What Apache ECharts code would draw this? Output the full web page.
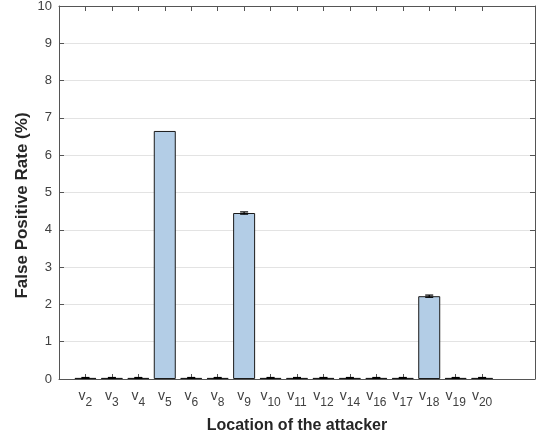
<!DOCTYPE html>
<html><head><meta charset="utf-8">
<script src="https://cdn.jsdelivr.net/npm/echarts@6/dist/echarts.min.js"></script>
<style>html,body{margin:0;padding:0;background:#fff}#c{width:537px;height:439px}</style>
</head><body><div id="c"></div>
<script>
// Attacker locations (subscript of v)
const categories = ['2','3','4','5','6','8','9','10','11','12','14','16','17','18','19','20'];
// False positive rate (%)
const rates = [0.03,0.03,0.03,6.65,0.03,0.03,4.45,0.03,0.03,0.03,0.03,0.03,0.03,2.22,0.03,0.03];
// Error (half-height of error bar)
const errors = [0.01,0.01,0.01,0,0.01,0.01,0.03,0.01,0.01,0.01,0.01,0.01,0.01,0.03,0.01,0.01];
const yTicks = [0,1,2,3,4,5,6,7,8,9,10];

const positions = categories.map((c, i) => i + 1);
const barData = positions.map((p, i) => [p, rates[i]]);
const errData = positions.map((p, i) => [p, rates[i], errors[i]]);

const axisColor = '#555';
const textColor = '#404040';
const font = 'Liberation Sans, Arial, Helvetica, sans-serif';

const chart = echarts.init(document.getElementById('c'), null, {renderer: 'canvas'});
chart.setOption({
  animation: false,
  backgroundColor: '#fff',
  grid: {left: 59, right: 2, top: 6, bottom: 60, containLabel: false, outerBoundsMode: 'none'},
  xAxis: [{
    type: 'value', min: 0, max: 18, position: 'bottom',
    axisLine: {show: true, onZero: false, lineStyle: {color: axisColor, width: 1}},
    axisTick: {show: true, inside: true, length: 5, customValues: positions, lineStyle: {color: axisColor}},
    axisLabel: {
      show: true, customValues: positions, margin: 10, fontFamily: font, color: textColor,
      formatter: v => '{v|v}{s|' + categories[Math.round(v) - 1] + '}',
      rich: {
        v: {fontSize: 14, fontFamily: font, color: textColor, verticalAlign: 'top', lineHeight: 14},
        s: {fontSize: 12, fontFamily: font, color: textColor, verticalAlign: 'bottom', lineHeight: 20}
      }
    },
    splitLine: {show: false},
    name: 'Location of the attacker', nameLocation: 'middle', nameGap: 39, nameMoveOverlap: false,
    nameTextStyle: {fontSize: 16, fontWeight: 'bold', color: '#262626', fontFamily: font}
  }, {
    type: 'value', min: 0, max: 18, position: 'top',
    axisLine: {show: true, onZero: false, lineStyle: {color: axisColor, width: 1}},
    axisTick: {show: true, inside: true, length: 5, customValues: positions, lineStyle: {color: axisColor}},
    axisLabel: {show: false},
    splitLine: {show: false}
  }],
  yAxis: [{
    type: 'value', min: 0, max: 10, interval: 1, position: 'left',
    axisLine: {show: true, onZero: false, lineStyle: {color: axisColor, width: 1}},
    axisTick: {show: true, inside: true, length: 5, lineStyle: {color: axisColor}},
    axisLabel: {show: true, margin: 7, fontSize: 13, fontFamily: font, color: textColor,
      formatter: v => yTicks.includes(v) ? String(v) : ''},
    splitLine: {show: true, lineStyle: {color: '#e3e3e3', width: 1}},
    name: 'False Positive Rate (%)', nameLocation: 'middle', nameGap: 28, nameMoveOverlap: false,
    nameTextStyle: {fontSize: 17, fontWeight: 'bold', color: '#262626', fontFamily: font,
      padding: [0, 26, 0, 0]}
  }, {
    type: 'value', min: 0, max: 10, interval: 1, position: 'right',
    axisLine: {show: true, onZero: false, lineStyle: {color: axisColor, width: 1}},
    axisTick: {show: true, inside: true, length: 5, lineStyle: {color: axisColor}},
    axisLabel: {show: false},
    splitLine: {show: false}
  }],
  series: [{
    type: 'bar', xAxisIndex: 0, yAxisIndex: 0, data: barData, barWidth: 22,
    itemStyle: {color: '#b3cde6', borderColor: '#1a1a1a', borderWidth: 1},
    z: 3
  }, {
    type: 'custom', xAxisIndex: 0, yAxisIndex: 0, data: errData, z: 4, clip: true,
    renderItem: function (params, api) {
      const x = api.value(0), y = api.value(1), e = api.value(2);
      if (!e) return null;
      const top = api.coord([x, y + e]);
      const bot = api.coord([x, y - e]);
      const hw = 4;
      const st = {stroke: '#000', lineWidth: 1.2};
      return {type: 'group', children: [
        {type: 'line', shape: {x1: top[0], y1: top[1], x2: bot[0], y2: bot[1]}, style: st},
        {type: 'line', shape: {x1: top[0] - hw, y1: top[1], x2: top[0] + hw, y2: top[1]}, style: st},
        {type: 'line', shape: {x1: bot[0] - hw, y1: bot[1], x2: bot[0] + hw, y2: bot[1]}, style: st}
      ]};
    }
  }]
});
</script>
</body></html>
